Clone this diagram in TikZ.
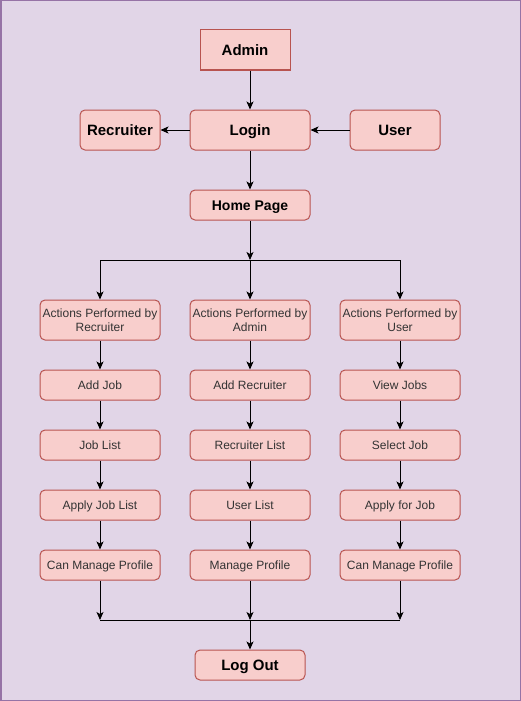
\documentclass[tikz,border=0pt]{standalone}
\usepackage{fontspec}
\setmainfont{Liberation Sans}
\usetikzlibrary{arrows.meta,positioning}
\definecolor{bgpurple}{HTML}{E1D5E7}
\definecolor{framepurple}{HTML}{9673A6}
\definecolor{boxfill}{HTML}{F8CECC}
\definecolor{boxline}{HTML}{B85450}
\definecolor{textgray}{HTML}{333333}
\tikzset{
  box/.style={draw=boxline,fill=boxfill,line width=1pt,rounded corners=5pt,inner sep=0pt,
    align=center,minimum width=120pt,minimum height=30pt,
    font=\fontsize{12}{14}\selectfont,text=textgray},
  cell/.style={box,text height=8.6pt,text depth=0pt},
  head/.style={box,minimum height=40pt,text height=10.7pt,text depth=0pt,
    font=\fontsize{15}{17}\selectfont\bfseries,text=black},
  arr/.style={-{Stealth[length=8pt,width=7pt,inset=2pt]},line width=1pt}
}
\begin{document}
\begin{tikzpicture}[x=1pt,y=-1pt]
\useasboundingbox (0,0) rectangle (521,701);
\fill[bgpurple] (0,0) rectangle (521,701);
\draw[framepurple,line width=1.5pt] (0.75,0.75) rectangle (520.25,700.25);
% top part
\node[head,sharp corners,minimum width=90pt] (admin) at (245,50) {Admin};
\node[head] (login) at (250,130) {Login};
\node[head,minimum width=80pt] (recruiter) at (120,130) {Recruiter};
\node[head,minimum width=90pt] (user) at (395,130) {User};
\node[head,minimum height=30pt,text height=10pt,font=\fontsize{14}{16}\selectfont\bfseries] (home) at (250,205) {Home Page};
% three columns
\node[box,minimum height=40pt] (actrec) at (100,320) {Actions Performed by\\Recruiter};
\node[cell] (addjob) at (100,385) {Add Job};
\node[cell] (joblist) at (100,445) {Job List};
\node[cell] (applylist) at (100,505) {Apply Job List};
\node[cell] (recprofile) at (100,565) {Can Manage Profile};
\node[box,minimum height=40pt] (actadm) at (250,320) {Actions Performed by\\Admin};
\node[cell] (addrec) at (250,385) {Add Recruiter};
\node[cell] (reclist) at (250,445) {Recruiter List};
\node[cell] (userlist) at (250,505) {User List};
\node[cell] (admprofile) at (250,565) {Manage Profile};
\node[box,minimum height=40pt] (actusr) at (400,320) {Actions Performed by\\User};
\node[cell] (viewjobs) at (400,385) {View Jobs};
\node[cell] (selectjob) at (400,445) {Select Job};
\node[cell] (applyjob) at (400,505) {Apply for Job};
\node[cell] (usrprofile) at (400,565) {Can Manage Profile};
\node[head,minimum width=110pt,minimum height=30pt] (logout) at (250,665) {Log Out};
\coordinate (split) at (250,260);
\coordinate (merge) at (250,620);
% connectors
\draw[arr] (admin.south -| login.north) -- (login.north);
\draw[arr] (login) -- (recruiter);
\draw[arr] (user) -- (login);
\draw[arr] (login) -- (home);
\draw[arr] (home) -- (split);
\draw[arr] (split) -| (actrec);
\draw[arr] (split) -- (actadm);
\draw[arr] (split) -| (actusr);
\foreach \a/\b in {actrec/addjob,addjob/joblist,joblist/applylist,applylist/recprofile,
  actadm/addrec,addrec/reclist,reclist/userlist,userlist/admprofile,
  actusr/viewjobs,viewjobs/selectjob,selectjob/applyjob,applyjob/usrprofile}
  \draw[arr] (\a) -- (\b);
\foreach \p in {recprofile,admprofile,usrprofile}
  \draw[arr] (\p) -- (\p.south |- merge);
\draw[line width=1pt] (recprofile.south |- merge) -- (usrprofile.south |- merge);
\draw[arr] (merge) -- (logout);
\end{tikzpicture}
\end{document}
